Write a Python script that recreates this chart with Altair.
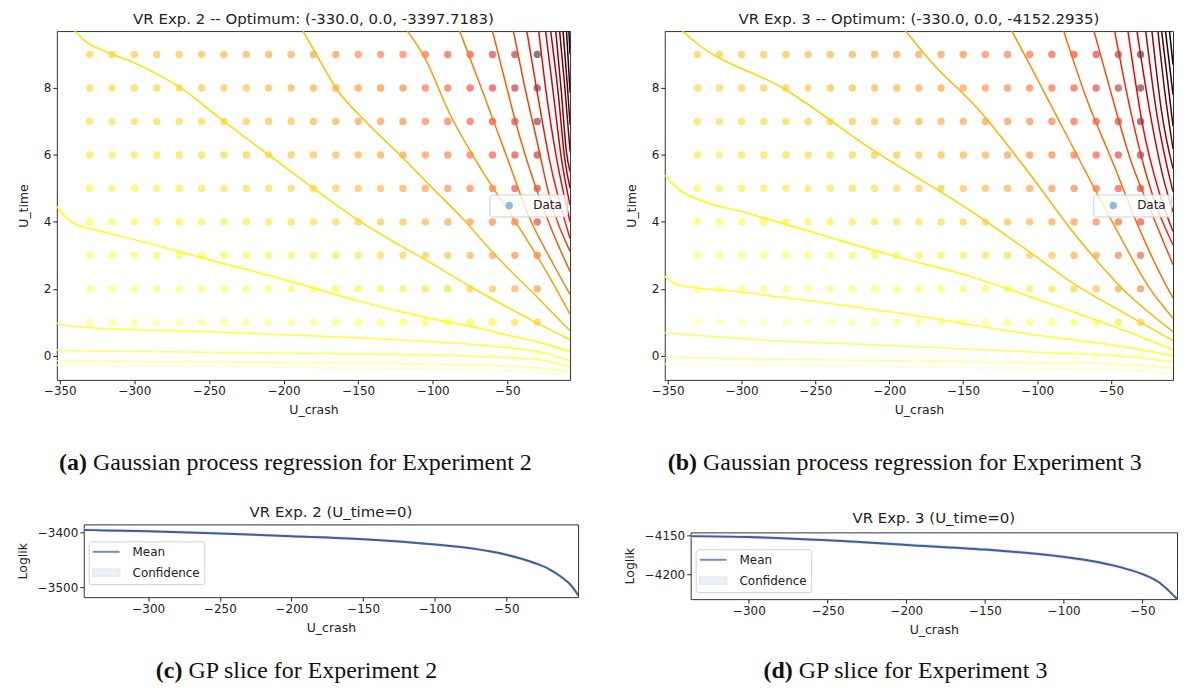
import altair as alt
import pandas as pd

# ------------------------------------------------------------------ data
U_CRASH_GRID = [-330, -315, -300, -285, -270, -255, -240, -225, -210, -195, -180,
                -165, -150, -135, -120, -105, -90, -75, -60, -45, -30]
U_TIME_GRID = [0, 1, 2, 3, 4, 5, 6, 7, 8, 9]

# Experiment 2 observed log-likelihoods (one list per U_time row)
A_ROW_0 = [-3397.7, -3400, -3401, -3403, -3404, -3405, -3406, -3407, -3408, -3409, -3410, -3411, -3413, -3415, -3418, -3421, -3426, -3431, -3437, -3446, -3458]
A_ROW_1 = [-3488, -3488, -3489, -3490, -3490, -3492, -3493, -3494, -3496, -3498, -3500, -3504, -3508, -3513, -3520, -3528, -3539, -3546, -3556, -3571, -3597]
A_ROW_2 = [-3506, -3508, -3510, -3512, -3514, -3517, -3520, -3523, -3527, -3532, -3539, -3543, -3548, -3553, -3560, -3567, -3577, -3593, -3607, -3630, -3661]
A_ROW_3 = [-3525, -3527, -3530, -3533, -3537, -3541, -3543, -3546, -3549, -3553, -3558, -3564, -3571, -3579, -3588, -3598, -3609, -3624, -3646, -3670, -3709]
A_ROW_4 = [-3542, -3544, -3545, -3548, -3550, -3553, -3556, -3560, -3564, -3570, -3576, -3584, -3594, -3602, -3611, -3621, -3636, -3654, -3675, -3704, -3775]
A_ROW_5 = [-3552, -3554, -3556, -3558, -3561, -3565, -3569, -3574, -3580, -3587, -3595, -3603, -3611, -3621, -3631, -3645, -3659, -3677, -3703, -3747, -3819]
A_ROW_6 = [-3562, -3564, -3566, -3569, -3572, -3577, -3582, -3588, -3595, -3601, -3608, -3619, -3629, -3639, -3651, -3662, -3678, -3701, -3731, -3782, -3856]
A_ROW_7 = [-3572, -3574, -3577, -3580, -3583, -3589, -3595, -3601, -3608, -3613, -3621, -3634, -3646, -3655, -3665, -3677, -3698, -3722, -3758, -3812, -3893]
A_ROW_8 = [-3582, -3585, -3587, -3591, -3595, -3601, -3607, -3613, -3619, -3625, -3635, -3650, -3659, -3668, -3678, -3692, -3715, -3742, -3779, -3836, -3929]
A_ROW_9 = [-3592, -3595, -3598, -3603, -3608, -3613, -3619, -3625, -3631, -3637, -3648, -3662, -3670, -3680, -3691, -3708, -3732, -3762, -3800, -3859, -3956]

# Experiment 3 observed log-likelihoods
B_ROW_0 = [-4152.3, -4155.5, -4157, -4158, -4159, -4160.5, -4162, -4163, -4165, -4167, -4168, -4170, -4172, -4175, -4178, -4181, -4185, -4189, -4194, -4200, -4212]
B_ROW_1 = [-4213, -4215, -4218, -4219.5, -4221.5, -4224, -4226, -4229, -4232, -4236, -4240, -4246, -4251, -4255, -4260, -4266, -4273, -4282, -4296, -4316, -4350]
B_ROW_2 = [-4248, -4250.5, -4252, -4254, -4256, -4258.5, -4261, -4264, -4268, -4271, -4276, -4280, -4285, -4292, -4300, -4309, -4321, -4341, -4361, -4392, -4424]
B_ROW_3 = [-4268, -4270, -4273, -4276, -4279, -4282.5, -4286, -4291, -4296, -4301, -4304, -4309, -4314, -4322, -4332, -4346, -4360, -4380, -4404, -4428, -4470]
B_ROW_4 = [-4287, -4290, -4293.5, -4297.5, -4301, -4303.5, -4306.5, -4310, -4314, -4319, -4324, -4331, -4338, -4349.5, -4358, -4371, -4388, -4409, -4428, -4460, -4510]
B_ROW_5 = [-4303, -4305.5, -4308, -4310.5, -4313.5, -4317, -4321, -4325.5, -4331, -4337, -4344, -4352, -4358, -4366, -4377.5, -4394, -4410, -4428, -4454, -4489, -4546]
B_ROW_6 = [-4314, -4317, -4319.5, -4322.5, -4326, -4330, -4335, -4341, -4348, -4353, -4359, -4366, -4373, -4382.5, -4397, -4411, -4426, -4447, -4477, -4518, -4595]
B_ROW_7 = [-4325, -4328, -4331, -4334.5, -4338, -4343.5, -4349.5, -4355, -4360, -4364.5, -4372.5, -4380, -4388, -4399, -4411, -4425, -4443, -4466, -4500, -4547, -4638]
B_ROW_8 = [-4335.5, -4339.5, -4342.5, -4346.5, -4350.5, -4356.5, -4361.5, -4366, -4371, -4375.5, -4385.5, -4394.5, -4403.5, -4413, -4424, -4440, -4459.5, -4485, -4520.5, -4572, -4670.5]
B_ROW_9 = [-4346.5, -4350, -4354.5, -4359, -4363.5, -4369, -4373.5, -4377.5, -4382, -4386.5, -4398.5, -4408, -4416.5, -4426.5, -4437, -4454.5, -4475.5, -4504, -4541, -4597, -4699]

# GP-mean contour levels and traced contour lines (U_crash, U_time)
A_LEVELS = [-3320, -3375, -3430, -3485, -3540, -3595, -3650, -3705, -3760, -3815,
            -3870, -3925, -3980, -4035, -4090, -4145, -4200, -4255, -4310, -4365]
A_LEVEL_NORM = (-4365, -3265)
A_C01 = [(-352, -0.28), (-250, -0.32), (-150, -0.37), (-80, -0.42), (-40, -0.47), (-8, -0.58)]
A_C02 = [(-352, -0.15), (-250, -0.18), (-150, -0.22), (-80, -0.27), (-40, -0.33), (-8, -0.47)]
A_C03 = [(-352, 0.18), (-340, 0.15), (-300, 0.13), (-200, 0.08), (-120, 0.04), (-80, 0.0), (-50, -0.06), (-25, -0.15), (-8, -0.33)]
A_C04 = [(-352, 0.97), (-343, 0.88), (-330, 0.84), (-250, 0.72), (-200, 0.63), (-150, 0.54), (-100, 0.42), (-70, 0.33), (-45, 0.22), (-25, 0.08), (-8, -0.15)]
A_C05 = [(-352, 4.46), (-345, 4.10), (-338, 3.90), (-330, 3.80), (-300, 3.47), (-250, 2.87), (-200, 2.28), (-150, 1.64), (-120, 1.30), (-100, 1.10), (-75, 0.88), (-50, 0.62), (-30, 0.42), (-8, 0.12)]
A_C06 = [(-340, 9.70), (-333, 9.40), (-320, 9.10), (-300, 8.75), (-269, 8.0), (-240, 7.0), (-210, 6.0), (-180, 5.0), (-150, 4.05), (-125, 3.37), (-100, 2.74), (-75, 2.07), (-50, 1.45), (-31, 1.0), (-8, 0.48)]
A_C07 = [(-187, 9.70), (-178, 9.0), (-165, 8.0), (-145, 7.0), (-122, 6.0), (-100, 5.0), (-80, 4.1), (-62, 3.2), (-46, 2.45), (-30, 1.75), (-18, 1.2), (-8, 0.75)]
A_C08 = [(-117, 9.70), (-106, 8.95), (-88, 7.17), (-68, 5.6), (-46, 4.1), (-24, 2.52), (-8, 1.24)]
A_C09 = [(-82, 9.70), (-68, 8.06), (-50, 5.89), (-35, 4.1), (-19, 2.72), (-8, 1.83)]
A_C10 = [(-60, 9.70), (-53, 8.46), (-42, 6.58), (-30, 4.9), (-17, 3.41), (-8, 2.52)]
A_C11 = [(-46, 9.70), (-39, 8.16), (-30, 6.38), (-22, 4.8), (-8, 3.12)]
A_C12 = [(-37, 9.70), (-30, 7.86), (-22, 5.89), (-8, 3.5)]
A_C13 = [(-29, 9.70), (-24, 7.86), (-17, 5.89), (-8, 4.0)]
A_C14 = [(-24.4, 9.70), (-19.3, 7.86), (-13.8, 5.89), (-8, 4.5)]
A_C15 = [(-21, 9.70), (-16, 7.86), (-11.6, 5.89), (-8, 5.0)]
A_C16 = [(-17.6, 9.70), (-13.8, 7.86), (-10.4, 6.08), (-8, 5.5)]
A_C17 = [(-15, 9.70), (-11.6, 8.06), (-8, 6.1)]
A_C18 = [(-12.7, 9.70), (-9.8, 8.06), (-8, 6.9)]
A_C19 = [(-10.4, 9.70), (-8, 7.86)]
A_C20 = [(-8.8, 9.70), (-8, 9.0)]
A_LINES = [A_C01, A_C02, A_C03, A_C04, A_C05, A_C06, A_C07, A_C08, A_C09, A_C10,
           A_C11, A_C12, A_C13, A_C14, A_C15, A_C16, A_C17, A_C18, A_C19, A_C20]

B_LEVELS = [-4100, -4150, -4200, -4250, -4300, -4350, -4400, -4450, -4500, -4550,
            -4600, -4650, -4700, -4750, -4800, -4850, -4900, -4950, -5000]
B_LEVEL_NORM = (-5000, -4050)
B_C01 = [(-352, -0.25), (-250, -0.30), (-150, -0.35), (-46, -0.42), (-8, -0.52)]
B_C02 = [(-352, -0.05), (-296, -0.09), (-196, -0.15), (-96, -0.21), (-46, -0.25), (-8, -0.37)]
B_C03 = [(-352, 0.69), (-296, 0.50), (-196, 0.30), (-96, 0.10), (-46, 0.0), (-8, -0.18)]
B_C04 = [(-352, 2.38), (-344, 2.13), (-296, 1.88), (-196, 1.29), (-96, 0.59), (-46, 0.30), (-8, 0.0)]
B_C05 = [(-352, 5.40), (-342, 4.95), (-331, 4.70), (-296, 4.26), (-196, 2.97), (-146, 2.38), (-96, 1.63), (-46, 0.84), (-8, 0.18)]
B_C06 = [(-340, 9.70), (-331, 9.36), (-271, 7.97), (-211, 6.14), (-146, 4.36), (-105, 3.1), (-75, 2.15), (-46, 1.4), (-8, 0.45)]
B_C07 = [(-189, 9.70), (-171, 8.75), (-140, 7.37), (-107, 5.55), (-74, 3.6), (-41, 1.95), (-8, 0.72)]
B_C08 = [(-117, 9.70), (-101, 8.36), (-74, 6.08), (-48, 3.91), (-24, 2.03), (-8, 1.12)]
B_C09 = [(-82, 9.70), (-68, 7.86), (-48, 5.69), (-30, 3.71), (-13, 2.13), (-8, 1.73)]
B_C10 = [(-61.5, 9.70), (-50, 7.86), (-37, 5.89), (-21, 4.1), (-8, 2.72)]
B_C11 = [(-47.5, 9.70), (-37, 7.37), (-26, 5.39), (-8, 3.31)]
B_C12 = [(-38.5, 9.70), (-28.5, 6.87), (-17.5, 4.9), (-8, 3.71)]
B_C13 = [(-32.4, 9.70), (-24, 7.37), (-15, 5.39), (-8, 4.3)]
B_C14 = [(-26.5, 9.70), (-19.5, 7.37), (-8, 4.9)]
B_C15 = [(-22.3, 9.70), (-16, 7.37), (-8, 5.59)]
B_C16 = [(-18.2, 9.70), (-13.5, 7.86), (-8, 6.18)]
B_C17 = [(-15.7, 9.70), (-8, 6.87)]
B_C18 = [(-13.1, 9.70), (-8, 7.8)]
B_C19 = [(-10.4, 9.70), (-8, 8.7)]
B_LINES = [B_C01, B_C02, B_C03, B_C04, B_C05, B_C06, B_C07, B_C08, B_C09, B_C10,
           B_C11, B_C12, B_C13, B_C14, B_C15, B_C16, B_C17, B_C18, B_C19]

# GP slices at U_time = 0
C_X = [-345, -330, -300, -250, -200, -150, -100, -75, -50, -40, -30, -20, -15, -10, -7, -4, 0]
C_MEAN = [-3395.6, -3396.5, -3398.0, -3402.0, -3407.0, -3412.5, -3422.0, -3429.0, -3440.6, -3447.5, -3456.0, -3467.0, -3475.0, -3484.0, -3490.6, -3499.0, -3514.0]
C_LOWER = [-3398.1, -3399.0, -3400.5, -3404.5, -3409.5, -3415.0, -3424.5, -3431.5, -3443.1, -3450.0, -3458.5, -3469.5, -3477.5, -3486.5, -3493.1, -3501.5, -3516.5]
C_UPPER = [-3393.1, -3394.0, -3395.5, -3399.5, -3404.5, -3410.0, -3419.5, -3426.5, -3438.1, -3445.0, -3453.5, -3464.5, -3472.5, -3481.5, -3488.1, -3496.5, -3511.5]

D_X = [-337, -300, -250, -200, -150, -105, -84, -63, -49, -40, -33, -28]
D_MEAN = [-4150.8, -4152.0, -4156.0, -4162.0, -4168.0, -4176.0, -4182.0, -4191.0, -4200.0, -4209.0, -4221.0, -4231.0]
D_LOWER = [-4152.8, -4154.0, -4158.0, -4164.0, -4170.0, -4178.0, -4184.0, -4193.0, -4202.0, -4211.0, -4223.0, -4233.0]
D_UPPER = [-4148.8, -4150.0, -4154.0, -4160.0, -4166.0, -4174.0, -4180.0, -4189.0, -4198.0, -4207.0, -4219.0, -4229.0]

TITLES = ["VR Exp. 2 -- Optimum: (-330.0, 0.0, -3397.7183)",
          "VR Exp. 3 -- Optimum: (-330.0, 0.0, -4152.2935)",
          "VR Exp. 2 (U_time=0)",
          "VR Exp. 3 (U_time=0)"]
CAP_TAGS = ["(a)", "(b)", "(c)", "(d)"]
CAP_TEXTS = ["Gaussian process regression for Experiment 2",
             "Gaussian process regression for Experiment 3",
             "GP slice for Experiment 2",
             "GP slice for Experiment 3"]
# Times advance widths (em) of the bold tag and of the regular text
CAP_TAG_EM = [1.166, 1.222, 1.110, 1.222]
CAP_TEXT_EM = [18.357, 18.357, 10.443, 10.443]

# ------------------------------------------------------------------ style
FONT = "DejaVu Sans"
SERIF = "Liberation Serif"
INK = "#222222"
CAP_SIZE = 24
HOT_STOPS = [0.0, 0.365079, 0.746032, 1.0]
HOT_COLORS = ["#0b0000", "#ff0000", "#ffff00", "#ffffff"]

GP_XDOM = [-352, -8]
GP_YDOM = [-0.72, 9.70]
GP_XTICKS = [-350, -300, -250, -200, -150, -100, -50]
GP_YTICKS = [0, 2, 4, 6, 8]
SL_XTICKS = [-300, -250, -200, -150, -100, -50]

ALL_CH = dict(x="independent", y="independent", color="independent", fill="independent",
              stroke="independent", shape="independent")


def hot_scale(vmin, vmax):
    span = vmax - vmin
    return alt.Scale(domain=[vmin + s * span for s in HOT_STOPS], range=HOT_COLORS,
                     interpolate="rgb", clamp=True)


def dots_frame(rows):
    recs = []
    for t, vals in zip(U_TIME_GRID, rows):
        for x, v in zip(U_CRASH_GRID, vals):
            recs.append({"U_crash": x, "U_time": t, "loglik": v})
    return pd.DataFrame(recs)


def contour_frame(lines, levels):
    recs = []
    for k, (pts, lev) in enumerate(zip(lines, levels)):
        for i, (x, y) in enumerate(pts):
            recs.append({"line": k, "i": i, "U_crash": x, "U_time": y, "level": lev})
    return pd.DataFrame(recs)


def caption_layers(idx, cx, y):
    tag_w = (CAP_TAG_EM[idx] + 0.25) * CAP_SIZE
    total = (CAP_TAG_EM[idx] + 0.25 + CAP_TEXT_EM[idx]) * CAP_SIZE
    x0 = cx - total / 2
    df = pd.DataFrame({"tag": [CAP_TAGS[idx]], "txt": [CAP_TEXTS[idx]]})
    base = alt.Chart(df)
    tag = base.mark_text(font=SERIF, fontSize=CAP_SIZE, fontWeight="bold", align="left",
                         baseline="alphabetic", color="#111111").encode(
        text="tag:N", x=alt.value(x0), y=alt.value(y))
    txt = base.mark_text(font=SERIF, fontSize=CAP_SIZE, align="left",
                         baseline="alphabetic", color="#111111").encode(
        text="txt:N", x=alt.value(x0 + tag_w), y=alt.value(y))
    return [tag, txt]


def panel_title(text):
    return alt.TitleParams(text=text, anchor="middle", font=FONT, fontSize=15,
                           fontWeight="normal", color=INK, offset=4)


def gp_panel(idx, rows, lines, levels, norm, legend_x, cap_cx, width, height):
    d = dots_frame(rows)
    c = contour_frame(lines, levels)
    xs = alt.Scale(domain=GP_XDOM, nice=False, zero=False)
    ys = alt.Scale(domain=GP_YDOM, nice=False, zero=False)
    xax = alt.Axis(values=GP_XTICKS, title="U_crash", titlePadding=7)
    yax = alt.Axis(values=GP_YTICKS, title="U_time", titlePadding=13)
    dots = alt.Chart(d).mark_circle(size=55, opacity=0.5).encode(
        x=alt.X("U_crash:Q", scale=xs, axis=xax),
        y=alt.Y("U_time:Q", scale=ys, axis=yax),
        color=alt.Color("loglik:Q", scale=hot_scale(d["loglik"].min(), d["loglik"].max()),
                        legend=None),
    )
    cont = alt.Chart(c).mark_line(strokeWidth=1.5, clip=True, interpolate="monotone").encode(
        x=alt.X("U_crash:Q", scale=xs, axis=xax),
        y=alt.Y("U_time:Q", scale=ys, axis=yax),
        detail="line:N",
        order="i:Q",
        stroke=alt.Stroke("level:Q", scale=hot_scale(*norm), legend=None),
    )
    leg = alt.Chart(pd.DataFrame({"k": ["Data"]})).transform_filter("false").mark_point(
        filled=True).encode(
        fill=alt.Fill("k:N", scale=alt.Scale(domain=["Data"], range=["#7fb2e0"]),
                      legend=alt.Legend(orient="none", legendX=legend_x, legendY=164,
                                        title=None, symbolType="circle", symbolSize=55,
                                        symbolOpacity=0.9, symbolStrokeWidth=0,
                                        symbolOffset=9, labelOffset=18,
                                        labelFont=FONT, labelFontSize=12, labelColor=INK,
                                        padding=5, fillColor="rgba(255,255,255,0.8)",
                                        strokeColor="#d0d0d0", cornerRadius=3)),
    )
    layers = [dots, cont, leg] + caption_layers(idx, cap_cx, 440.5)
    return alt.layer(*layers).properties(width=width, height=height, title=panel_title(TITLES[idx]))


def slice_panel(idx, xv, mean, lower, upper, xdom, ydom, yticks, cap_cx, cap_y, width, height):
    df = pd.DataFrame({"U_crash": xv, "mean": mean, "lower": lower, "upper": upper})
    xs = alt.Scale(domain=xdom, nice=False, zero=False)
    ys = alt.Scale(domain=ydom, nice=False, zero=False)
    xax = alt.Axis(values=SL_XTICKS, title="U_crash", titlePadding=7)
    yax = alt.Axis(values=yticks, title="Loglik", titlePadding=8, format="d")
    band = alt.Chart(df).mark_area(color="#c8d6eb", opacity=0.8, interpolate="monotone",
                                   clip=True).encode(
        x=alt.X("U_crash:Q", scale=xs, axis=xax),
        y=alt.Y("lower:Q", scale=ys, axis=yax),
        y2="upper:Q",
    )
    line = alt.Chart(df).mark_line(color="#3d5f9e", strokeWidth=2, interpolate="monotone",
                                   clip=True).encode(
        x=alt.X("U_crash:Q", scale=xs, axis=xax),
        y=alt.Y("mean:Q", scale=ys, axis=yax),
    )
    keys = ["Mean", "Confidence"]
    shapes = ["M-2.45,0H2.45", "M-2.45,-0.62H2.45V0.62H-2.45Z"]
    lg = alt.Legend(orient="none", legendX=5, legendY=17, title=None, symbolSize=121,
                    symbolStrokeWidth=2, symbolOffset=7, labelOffset=20, rowPadding=7,
                    labelFont=FONT, labelFontSize=12, labelColor=INK, padding=4,
                    fillColor="rgba(255,255,255,0.8)", strokeColor="#d0d0d0", cornerRadius=3)
    leg = alt.Chart(pd.DataFrame({"k": keys})).transform_filter("false").mark_point(
        filled=True).encode(
        fill=alt.Fill("k:N", scale=alt.Scale(domain=keys, range=["transparent", "#dae3f1"]), legend=lg),
        stroke=alt.Stroke("k:N", scale=alt.Scale(domain=keys, range=["#3d5f9e", "#dae3f1"]), legend=lg),
        shape=alt.Shape("k:N", scale=alt.Scale(domain=keys, range=shapes), legend=lg),
    )
    layers = [band, line, leg] + caption_layers(idx, cap_cx, cap_y)
    return alt.layer(*layers).properties(width=width, height=height, title=panel_title(TITLES[idx]))


def spacer(w, h):
    return alt.Chart(pd.DataFrame({"z": [0]})).mark_point(opacity=0).encode(
        x=alt.value(0), y=alt.value(0)).properties(
        width=w, height=h, view=alt.ViewBackground(stroke="transparent"))


A_ROWS = [A_ROW_0, A_ROW_1, A_ROW_2, A_ROW_3, A_ROW_4, A_ROW_5, A_ROW_6, A_ROW_7, A_ROW_8, A_ROW_9]
B_ROWS = [B_ROW_0, B_ROW_1, B_ROW_2, B_ROW_3, B_ROW_4, B_ROW_5, B_ROW_6, B_ROW_7, B_ROW_8, B_ROW_9]

pa = gp_panel(0, A_ROWS, A_LINES, A_LEVELS, A_LEVEL_NORM, 434, 239.5, 515, 350)
pb = gp_panel(1, B_ROWS, B_LINES, B_LEVELS, B_LEVEL_NORM, 430, 241, 510, 350)
pc = slice_panel(2, C_X, C_MEAN, C_LOWER, C_UPPER, [-345, 0], [-3517.5, -3385.6],
                 [-3400, -3500], 214, 154, 496, 73)
pd_ = slice_panel(3, D_X, D_MEAN, D_LOWER, D_UPPER, [-337, -28], [-4231.2, -4146],
                  [-4150, -4200], 216, 146, 488, 67)

row1 = alt.hconcat(pa, pb, spacing=95, bounds="flush").resolve_scale(**ALL_CH)
dcol = alt.vconcat(spacer(1, 8), pd_, spacing=0, bounds="flush").resolve_scale(**ALL_CH)
row2 = alt.hconcat(spacer(27, 1), pc, spacer(113, 1), dcol,
                   spacing=0, bounds="flush").resolve_scale(**ALL_CH)

chart = alt.vconcat(row1, row2, spacing=495, bounds="flush").resolve_scale(**ALL_CH).properties(
    padding={"left": 7, "top": 2, "right": 0, "bottom": 0}, background="white"
).configure_view(stroke="#333333", strokeWidth=1).configure_axis(
    domain=False, grid=False, labelFont=FONT, labelFontSize=12, labelColor=INK,
    titleFont=FONT, titleFontSize=12.5, titleFontWeight="normal", titleColor=INK,
    tickColor=INK, tickSize=4, tickWidth=1, labelPadding=2, labelFlush=False,
)

chart.save("out.html", embed_options={"renderer": "svg", "actions": False})
